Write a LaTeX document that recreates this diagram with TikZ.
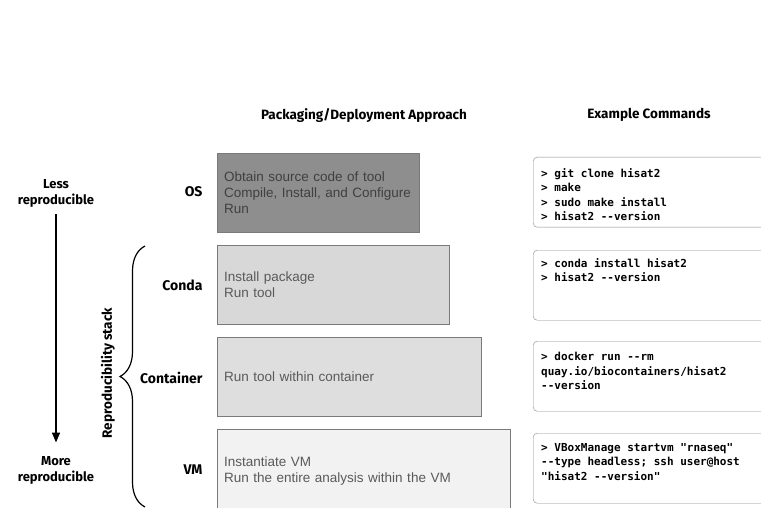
\documentclass[tikz,border=0pt]{standalone}
\usepackage{fontspec}
\setmainfont{Liberation Sans}
\setmonofont{DejaVu Sans Mono}
\newfontfamily\labelfont{Fira Sans}
\usepackage{tikz}
\usetikzlibrary{arrows.meta,decorations.pathreplacing}
\definecolor{osfill}{HTML}{8E8E8E}
\definecolor{condafill}{HTML}{D8D8D8}
\definecolor{contfill}{HTML}{DEDEDE}
\definecolor{vmfill}{HTML}{F2F2F2}
\definecolor{boxline}{HTML}{7A7A7A}
\definecolor{boxtext}{HTML}{5A5A5A}
\definecolor{cmdline}{HTML}{8A8A8A}

\tikzset{
  stage/.style={anchor=east, font=\labelfont\bfseries\fontsize{14}{16}\selectfont},
  header/.style={font=\labelfont\bfseries\fontsize{13.5}{15}\selectfont},
  side/.style={align=center, font=\labelfont\bfseries\fontsize{13}{16}\selectfont},
  appbox/.style={draw=boxline, anchor=north west, inner xsep=7pt, align=left, text=boxtext,
    font=\fontsize{13.5}{16}\selectfont},
  cmdbox/.style={draw=cmdline, rounded corners=4pt, anchor=north west, minimum width=245pt, minimum height=70pt},
  cmdtext/.style={anchor=north west, inner sep=0pt, align=left, font=\ttfamily\bfseries\fontsize{11}{14.5}\selectfont}
}

\begin{document}
\begin{tikzpicture}[x=1pt,y=-1pt]
    \clip (0,0) rectangle (761,508);
    \fill[white] (0,0) rectangle (761,508);
    \node[header] at(364,115)(approach){Packaging/Deployment Approach};
    \node[header] at(649,115)(examples){Example Commands};
    % left side
    \node[side] at(56,193)(less){Less\\reproducible};
    \node[side] at(56,470)(more){More\\reproducible};
    \draw[-{Triangle[length=10pt,width=8pt]}, line width=1.5pt, shorten <=4pt, shorten >=10pt] (less) -- (more);
    \coordinate (bracetop) at (145,246);
    \coordinate (bracebot) at (145,507);
    \draw[line width=1.2pt, decorate, decoration={brace,amplitude=25pt}] (bracebot) -- (bracetop);
    \node[rotate=90, font=\labelfont\bfseries\fontsize{13.5}{15}\selectfont] at(108,373)(stack){Reproducibility stack};
    % stages
    \node[stage] at(206,192)(os){OS};
    \node[stage] at(206,285)(conda){Conda};
    \node[stage] at(206,378)(container){Container};
    \node[stage] at(206,470)(vm){VM};
    % approaches
    \node[appbox, fill=osfill, text=black!75, text width=188pt, minimum height=79pt] at(217,153)(osbox){Obtain source code of tool\\Compile, Install, and Configure\\Run};
    \node[appbox, fill=condafill, text width=218pt, minimum height=79pt] at(217,245)(condabox){Install package\\Run tool};
    \node[appbox, fill=contfill, text width=250pt, minimum height=79pt] at(217,337)(contbox){Run tool within container};
    \node[appbox, fill=vmfill, text width=279pt, minimum height=83pt] at(217,429)(vmbox){Instantiate VM\\Run the entire analysis within the VM};
    % commands
    \node[cmdbox] at(533,157)(oscmd){};
    \node[cmdtext] at(541,168)(ostext){> git clone hisat2\\> make\\> sudo make install\\> hisat2 -{}-version};
    \node[cmdbox] at(533,250)(condacmd){};
    \node[cmdtext] at(541,258)(condatext){> conda install hisat2\\> hisat2 -{}-version};
    \node[cmdbox] at(533,341)(contcmd){};
    \node[cmdtext] at(541,352)(conttext){> docker run -{}-rm\\quay.io/biocontainers/hisat2\\-{}-version};
    \node[cmdbox] at(533,433)(vmcmd){};
    \node[cmdtext] at(541,443)(vmtext){> VBoxManage startvm "rnaseq"\\-{}-type headless; ssh user@host\\"hisat2 -{}-version"};
\end{tikzpicture}
\end{document}
